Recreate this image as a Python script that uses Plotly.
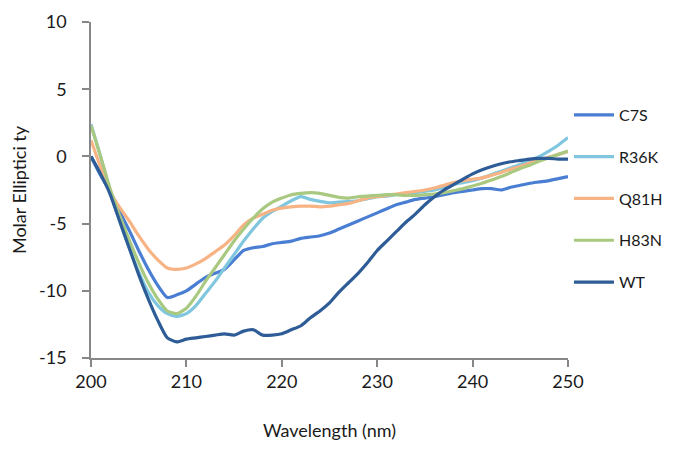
import plotly.graph_objects as go

wavelength = list(range(200, 251))

c7s = [0.0, -1.4, -2.6, -4.1, -5.5, -7.0, -8.4, -9.6, -10.5, -10.3,
       -10.0, -9.5, -9.0, -8.7, -8.4, -7.7, -7.0, -6.8, -6.7, -6.5,
       -6.4, -6.3, -6.1, -6.0, -5.9, -5.7, -5.4, -5.1, -4.8, -4.5,
       -4.2, -3.9, -3.6, -3.4, -3.2, -3.1, -3.0, -2.85, -2.7, -2.6,
       -2.5, -2.4, -2.4, -2.5, -2.3, -2.15, -2.0, -1.9, -1.8, -1.65, -1.5]

r36k = [2.4, 0.0, -2.6, -4.8, -6.8, -8.6, -10.1, -11.1, -11.7, -11.9,
        -11.7, -11.1, -10.2, -9.3, -8.3, -7.3, -6.3, -5.4, -4.6, -4.1,
        -3.7, -3.3, -3.0, -3.2, -3.35, -3.45, -3.4, -3.35, -3.3, -3.15,
        -3.0, -2.95, -2.85, -2.8, -2.7, -2.6, -2.5, -2.3, -2.1, -1.95,
        -1.8, -1.6, -1.35, -1.1, -0.85, -0.6, -0.3, 0.0, 0.4, 0.85, 1.4]

q81h = [1.2, -0.8, -2.6, -3.8, -4.8, -5.9, -6.9, -7.7, -8.3, -8.4,
        -8.3, -8.0, -7.6, -7.1, -6.6, -5.9, -5.1, -4.6, -4.3, -4.0,
        -3.85, -3.75, -3.7, -3.7, -3.75, -3.7, -3.6, -3.5, -3.3, -3.1,
        -3.0, -2.9, -2.8, -2.7, -2.6, -2.5, -2.35, -2.15, -1.95, -1.8,
        -1.7, -1.6, -1.4, -1.2, -0.95, -0.75, -0.5, -0.25, -0.05, 0.15, 0.35]

h83n = [2.3, 0.0, -2.4, -4.4, -6.2, -7.9, -9.4, -10.6, -11.5, -11.7,
        -11.3, -10.4, -9.3, -8.3, -7.3, -6.3, -5.4, -4.6, -3.9, -3.4,
        -3.1, -2.85, -2.75, -2.7, -2.75, -2.9, -3.05, -3.1, -3.0, -2.95,
        -2.9, -2.85, -2.85, -2.9, -2.9, -2.85, -2.8, -2.7, -2.55, -2.4,
        -2.2, -2.0, -1.75, -1.5, -1.2, -0.9, -0.65, -0.35, -0.1, 0.15, 0.4]

wt = [0.0, -1.3, -2.8, -4.8, -6.8, -8.8, -10.6, -12.2, -13.5, -13.8,
      -13.6, -13.5, -13.4, -13.3, -13.2, -13.3, -13.0, -12.9, -13.3, -13.3,
      -13.2, -12.9, -12.6, -12.0, -11.5, -10.9, -10.1, -9.4, -8.7, -7.9,
      -7.0, -6.3, -5.6, -4.9, -4.3, -3.6, -3.0, -2.5, -2.1, -1.7,
      -1.3, -1.0, -0.75, -0.55, -0.4, -0.3, -0.2, -0.15, -0.15, -0.2, -0.2]

series_names = ["C7S", "R36K", "Q81H", "H83N", "WT"]
series_values = [c7s, r36k, q81h, h83n, wt]
colors = ["#4A7ED2", "#7FC6DE", "#F8B385", "#A9C981", "#2E5C96"]

x_ticks = [200, 210, 220, 230, 240, 250]
y_ticks = [-15, -10, -5, 0, 5, 10]

FONT = "Lato"
TXT = "#1a1a1a"

fig = go.Figure()
for name, vals, col in zip(series_names, series_values, colors):
    fig.add_trace(go.Scatter(
        x=wavelength, y=vals, name=name, mode="lines",
        line=dict(color=col, width=3.2, shape="spline", smoothing=0.6),
        legendgroup=name,
    ))

fig.update_layout(
    width=661, height=433,
    paper_bgcolor="white", plot_bgcolor="white",
    margin=dict(l=83, r=101, t=14, b=83, autoexpand=False),
    font=dict(family=FONT, size=18, color=TXT),
    showlegend=True,
    legend=dict(
        x=1.002, xanchor="left", y=0.774, yanchor="top",
        font=dict(family=FONT, size=16, color=TXT),
        tracegroupgap=18, itemwidth=40,
        bgcolor="rgba(0,0,0,0)",
    ),
    xaxis=dict(
        range=[200, 250], tickvals=x_ticks, ticktext=[str(v) for v in x_ticks],
        showgrid=False, zeroline=False, automargin=False,
        showline=True, linecolor="#878787", linewidth=1.5,
        ticks="outside", ticklen=7, tickcolor="#878787", tickwidth=1.5,
        title=dict(text="Wavelength (nm)", standoff=35,
                   font=dict(family=FONT, size=18, color=TXT)),
    ),
    yaxis=dict(
        range=[-15, 10], tickvals=y_ticks, ticktext=[str(v) for v in y_ticks],
        showgrid=False, zeroline=False, automargin=False,
        showline=True, linecolor="#878787", linewidth=1.5,
        ticks="outside", ticklen=7, tickcolor="#878787", tickwidth=1.5,
        ticklabelstandoff=12,
        title=dict(text="Molar Elliptici ty", standoff=10,
                   font=dict(family=FONT, size=18, color=TXT)),
    ),
)

fig.write_html("out.html")
